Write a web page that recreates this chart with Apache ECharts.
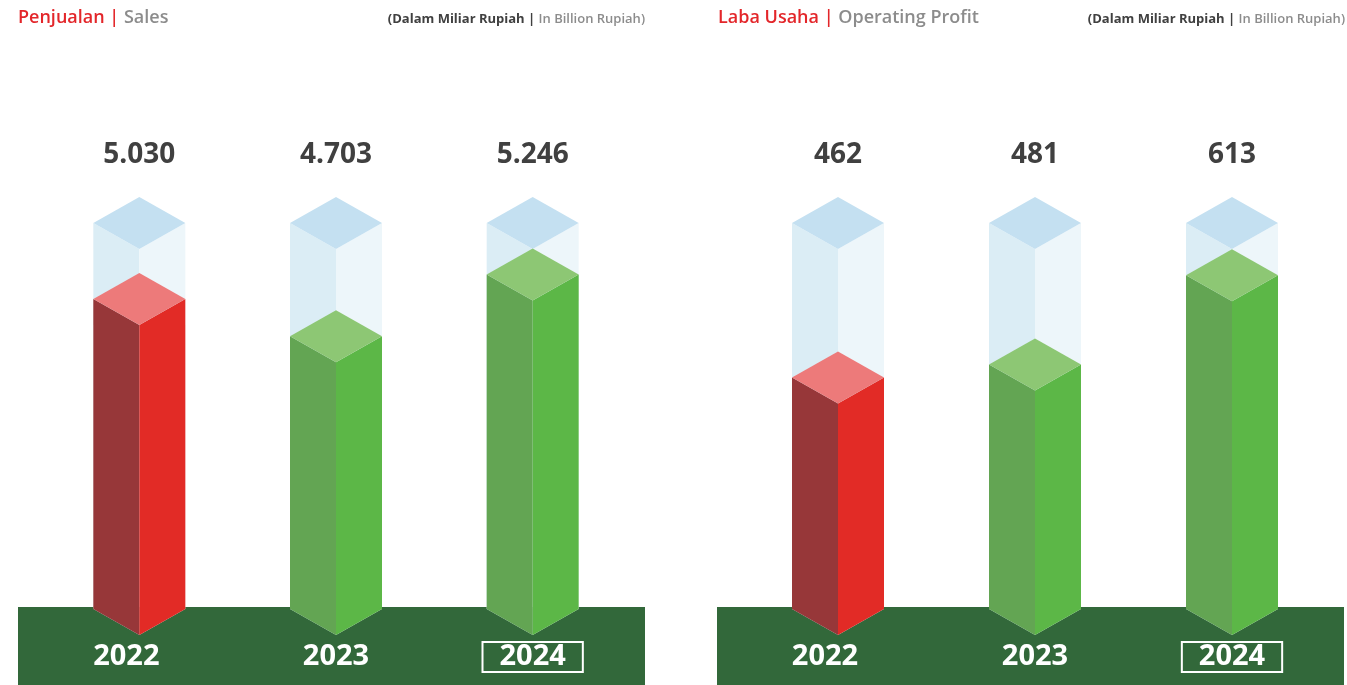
<!DOCTYPE html>
<html>
<head>
<meta charset="utf-8">
<script src="https://cdn.jsdelivr.net/npm/echarts@6/dist/echarts.min.js"></script>
<style>
html,body{margin:0;padding:0;background:#fff}
#chart{width:1347px;height:685px}
</style>
</head>
<body>
<div id="chart"></div>
<script>
// ---------------- data ----------------
const years = ['2022', '2023', '2024'];
const sales = [5030, 4703, 5246];
const profit = [462, 481, 613];
// value range of each (hidden) axis, the ghost column reaches the max
const salesRange = [2300, 5700];
const profitRange = [120, 690];

// ---------------- look ----------------
const FONT = "'Open Sans', 'Noto Sans', sans-serif";
const W = 46, D = 26;
const faces = {
  red:   { left: '#973739', right: '#E22B26', top: '#ED7A7A' },
  green: { left: '#63A553', right: '#5CB747', top: '#8DC774' },
  ghost: { left: '#DBEDF5', right: '#EDF6FA', top: '#C4E0F1' }
};

function fmt(v) {
  return String(v).replace(/\B(?=(\d{3})+(?!\d))/g, '.');
}

function block(api, idx, top, base, f) {
  const p = api.coord([idx, top]);
  const b = api.coord([idx, base]);
  const cx = p[0], yt = p[1], yb = b[1];
  return [
    { type: 'polygon', shape: { points: [[cx - W, yt], [cx, yt + D], [cx, yb + D], [cx - W, yb]] }, style: { fill: f.left } },
    { type: 'polygon', shape: { points: [[cx, yt + D], [cx + W, yt], [cx + W, yb], [cx, yb + D]] }, style: { fill: f.right } },
    { type: 'polygon', shape: { points: [[cx, yt - D], [cx + W, yt], [cx, yt + D], [cx - W, yt]] }, style: { fill: f.top } }
  ];
}

function ghostSeries(values, range, ax) {
  return {
    type: 'custom', xAxisIndex: ax, yAxisIndex: ax, z: 2,
    encode: { x: 0, y: 1 },
    data: values.map((v, i) => [i, range[1], v]),
    renderItem: function (params, api) {
      const idx = api.value(0);
      const kids = block(api, idx, range[1], range[0], faces.ghost);
      const p = api.coord([idx, range[1]]);
      kids.push({
        type: 'text', x: p[0], y: p[1] - 68,
        style: { text: fmt(api.value(2)), fill: '#404040', font: 'bold 28px ' + FONT, align: 'center', verticalAlign: 'middle' }
      });
      return { type: 'group', children: kids };
    }
  };
}

function barSeries(values, range, ax) {
  return {
    type: 'custom', xAxisIndex: ax, yAxisIndex: ax, z: 3,
    encode: { x: 0, y: 1 },
    data: values.map((v, i) => [i, v]),
    renderItem: function (params, api) {
      const idx = api.value(0);
      const f = idx === 0 ? faces.red : faces.green;
      return { type: 'group', children: block(api, idx, api.value(1), range[0], f) };
    }
  };
}

const yr = { color: '#fff', fontFamily: FONT, fontWeight: 'bold', fontSize: 29, lineHeight: 30 };
const yearLabel = {
  color: '#fff', fontFamily: FONT, fontWeight: 'bold', fontSize: 29, margin: 33,
  formatter: v => v === '2024' ? '{b|' + v + '}' : (v === '2022' ? '{f|' + v + '}' : '{n|' + v + '}'),
  rich: {
    n: Object.assign({}, yr),
    f: Object.assign({}, yr, { padding: [0, 26, 0, 0] }),
    b: Object.assign({}, yr, { padding: [0, 17, 1, 17], borderColor: '#fff', borderWidth: 2 })
  }
};

function titleRich() {
  return {
    r: { color: '#E3262A', fontFamily: FONT, fontWeight: 600, fontSize: 18, lineHeight: 24 },
    g: { color: '#8C8C8C', fontFamily: FONT, fontWeight: 600, fontSize: 18, lineHeight: 24 },
    d: { color: '#404040', fontFamily: FONT, fontWeight: 'bold', fontSize: 13, lineHeight: 20 },
    l: { color: '#8C8C8C', fontFamily: FONT, fontWeight: 600, fontSize: 13, lineHeight: 20 }
  };
}

const chart = echarts.init(document.getElementById('chart'));
chart.setOption({
  animation: false,
  title: [
    { text: '{r|Penjualan | }{g|Sales}', left: 18, top: 6, padding: 0, textStyle: { rich: titleRich() } },
    { text: '{d|(Dalam Miliar Rupiah | }{l|In Billion Rupiah)}', right: 702, top: 9, padding: 0, textStyle: { rich: titleRich() } },
    { text: '{r|Laba Usaha | }{g|Operating Profit}', left: 718, top: 6, padding: 0, textStyle: { rich: titleRich() } },
    { text: '{d|(Dalam Miliar Rupiah | }{l|In Billion Rupiah)}', right: 2, top: 9, padding: 0, textStyle: { rich: titleRich() } }
  ],
  graphic: [
    { type: 'rect', z: -10, shape: { x: 18, y: 607, width: 627, height: 78 }, style: { fill: '#32683A' } },
    { type: 'rect', z: -10, shape: { x: 717, y: 607, width: 627, height: 78 }, style: { fill: '#32683A' } }
  ],
  grid: [
    { left: 41, width: 590, top: 223, height: 386 },
    { left: 739.5, width: 591, top: 223, height: 386 }
  ],
  xAxis: [0, 1].map(i => ({
    type: 'category', gridIndex: i, data: years, z: 10,
    axisLine: { show: false }, axisTick: { show: false }, splitLine: { show: false },
    axisLabel: yearLabel
  })),
  yAxis: [
    { type: 'value', gridIndex: 0, min: salesRange[0], max: salesRange[1], show: false },
    { type: 'value', gridIndex: 1, min: profitRange[0], max: profitRange[1], show: false }
  ],
  series: [
    ghostSeries(sales, salesRange, 0),
    barSeries(sales, salesRange, 0),
    ghostSeries(profit, profitRange, 1),
    barSeries(profit, profitRange, 1)
  ]
});
</script>
</body>
</html>
